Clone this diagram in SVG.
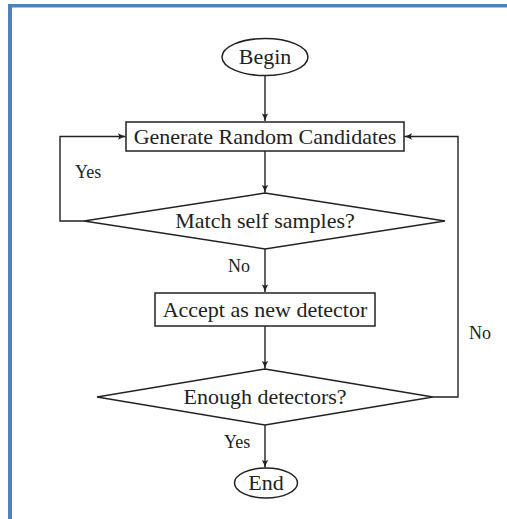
<svg xmlns="http://www.w3.org/2000/svg" width="507" height="519" viewBox="0 0 507 519">
<style>
.shape{fill:#fff;stroke:#222;stroke-width:1.5}
.conn{fill:none;stroke:#222;stroke-width:1.4}
.t{font-family:"Liberation Serif","DejaVu Serif",serif;font-size:22px;fill:#222;text-anchor:middle}
.lbl{font-family:"Liberation Serif","DejaVu Serif",serif;font-size:18px;fill:#222}
</style>
<defs>
<marker id="arr" viewBox="0 0 10 8" refX="9.5" refY="4" markerWidth="8" markerHeight="6.4" markerUnits="userSpaceOnUse" orient="auto">
<path d="M0,0 Q5,3 10,4 Q5,5 0,8 Q3,4 0,0 Z" fill="#222"/>
</marker>
</defs>
<rect x="0" y="0" width="507" height="519" fill="#fff"/>
<rect x="8" y="4" width="499" height="3.5" fill="#4f81bd"/>
<rect x="8" y="4" width="4" height="515" fill="#4f81bd"/>

<g id="connectors">
<path class="conn" d="M265,75.5 V121" marker-end="url(#arr)"/>
<path class="conn" d="M265,151 V192.5" marker-end="url(#arr)"/>
<path class="conn" d="M84,221 H60 V136.5 H125.5" marker-end="url(#arr)"/>
<path class="conn" d="M265,249 V292" marker-end="url(#arr)"/>
<path class="conn" d="M265,326 V368.5" marker-end="url(#arr)"/>
<path class="conn" d="M433,397 H458 V136.5 H404.5" marker-end="url(#arr)"/>
<path class="conn" d="M265,425 V467.5" marker-end="url(#arr)"/>
<text class="lbl" x="75" y="178">Yes</text>
<text class="lbl" x="228" y="272">No</text>
<text class="lbl" x="469" y="339">No</text>
<text class="lbl" x="224" y="448">Yes</text>
</g>

<g id="begin">
<ellipse class="shape" cx="265" cy="57" rx="43" ry="18.5"/>
<text class="t" x="265" y="64">Begin</text>
</g>
<g id="generate">
<rect class="shape" x="126" y="122" width="278" height="29"/>
<text class="t" x="265" y="144">Generate Random Candidates</text>
</g>
<g id="match">
<polygon class="shape" points="265,193 445,221 265,249 84,221"/>
<text class="t" x="265" y="228">Match self samples?</text>
</g>
<g id="accept">
<rect class="shape" x="155" y="293" width="220" height="33"/>
<text class="t" x="265" y="317">Accept as new detector</text>
</g>
<g id="enough">
<polygon class="shape" points="265,369 433,397 265,425 97,397"/>
<text class="t" x="265" y="404">Enough detectors?</text>
</g>
<g id="end">
<ellipse class="shape" cx="266" cy="483" rx="31.5" ry="15"/>
<text class="t" x="266" y="490">End</text>
</g>
</svg>
